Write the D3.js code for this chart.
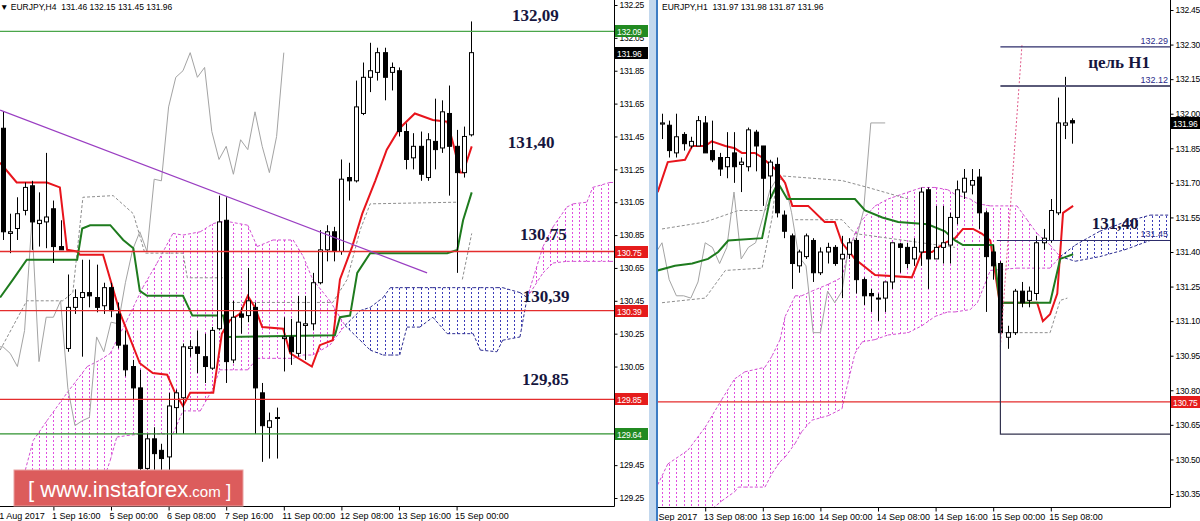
<!DOCTYPE html>
<html>
<head>
<meta charset="utf-8">
<title>EURJPY H4 / H1</title>
<script src="https://cdnjs.cloudflare.com/ajax/libs/d3/7.8.5/d3.min.js"></script>
<style>
	body { margin: 0; background: #fff; }
	svg { display: block; }
	.vis text { font-family: "Liberation Sans", Arial, sans-serif; }
	.vis .vis__note { font-family: "Liberation Serif", "Times New Roman", serif; font-weight: bold; font-size: 17px; fill: #16163e; }
</style>
</head>
<body>
<svg class="vis" width="1200" height="521"></svg>
<script>
// ---------- H4 panel data ----------
// [open, high, low, close]
var h4Candles = [
	[131.50,131.60,130.82,130.87],[130.86,130.98,130.74,130.87],[130.89,131.08,130.82,130.98],[131.00,131.17,130.97,131.14],
	[131.15,131.18,130.76,130.93],[130.92,131.11,130.78,130.94],[130.93,131.35,130.77,130.96],[131.01,131.06,130.68,130.78],
	[130.78,130.94,130.76,130.76],[130.16,130.61,130.14,130.41],[130.41,130.52,130.37,130.47],[130.47,130.70,130.11,130.50],
	[130.50,130.70,130.41,130.48],[130.47,130.67,130.38,130.41],[130.42,130.56,130.37,130.53],[130.53,130.56,130.35,130.39],
	[130.37,130.44,130.16,130.18],[130.18,130.27,129.99,130.03],[130.05,130.09,129.85,129.92],[129.92,130.03,129.42,129.43],
	[129.43,129.64,129.42,129.61],[129.61,129.68,129.42,129.52],[129.54,129.58,129.42,129.49],[129.50,129.89,129.42,129.81],
	[129.80,129.91,129.64,129.89],[129.86,130.19,129.64,130.17],[130.16,130.21,130.11,130.17],[130.17,130.27,130.01,130.13],
	[130.11,130.25,129.95,130.05],[130.04,130.29,130.03,130.27],[130.28,131.09,130.27,130.93],[130.94,131.08,129.95,130.08],
	[130.09,130.45,130.07,130.35],[130.37,130.41,130.25,130.35],[130.36,130.65,130.32,130.45],[130.41,130.44,129.64,129.92],
	[129.89,129.95,129.47,129.69],[129.68,129.77,129.49,129.72],[129.74,129.80,129.49,129.74],[130.22,130.35,130.02,130.23],
	[130.23,130.34,130.06,130.14],[130.13,130.48,130.11,130.32],[130.30,130.48,130.09,130.31],[130.31,130.62,130.27,130.56],
	[130.56,130.88,130.55,130.76],[130.76,130.91,130.69,130.87],[130.87,130.90,130.69,130.75],[130.75,131.31,130.73,131.19],
	[131.20,131.29,131.06,131.18],[131.18,131.79,131.17,131.63],[131.59,131.90,131.58,131.81],[131.81,132.02,131.72,131.85],
	[131.84,131.99,131.79,131.96],[131.96,131.99,131.67,131.81],[131.84,131.90,131.73,131.87],[131.85,131.87,131.45,131.48],
	[131.48,131.53,131.25,131.31],[131.32,131.47,131.25,131.39],[131.39,131.48,131.18,131.22],[131.20,131.47,131.18,131.43],
	[131.42,131.68,131.25,131.37],[131.38,131.67,131.35,131.60],[131.59,131.76,131.09,131.39],[131.39,131.49,130.62,131.23],
	[131.23,131.51,131.20,131.45],[131.46,132.15,131.45,131.96]
];
// [bar index, price]
var h4Tenkan = [[-0.4,131.29],[1.9,131.17],[6.1,131.17],[7.9,131.14],[8.9,130.76],[10.3,130.75],[10.7,130.73],[13.9,130.73],
	[16.3,130.37],[19.0,130.07],[20.8,130.01],[22.8,130.00],[23.9,129.89],[25.0,129.81],[26.0,129.89],[29.2,129.89],
	[30.4,130.25],[31.5,130.33],[32.9,130.37],[34.0,130.48],[35.0,130.41],[36.0,130.29],[38.9,130.28],[39.9,130.13],
	[42.9,130.05],[44.0,130.18],[45.8,130.21],[46.8,130.58],[48.5,130.78],[49.9,130.98],[51.7,131.18],[53.3,131.37],
	[55.1,131.50],[57.2,131.59],[59.7,131.55],[61.7,131.54],[62.5,131.41],[63.5,131.23],[63.9,131.23],[65.1,131.39]];
var h4Kijun = [[-0.4,130.47],[1.4,130.58],[3.3,130.70],[10.3,130.70],[11.0,130.89],[12.1,130.91],[14.9,130.91],[16.7,130.82],
	[18.1,130.77],[19.0,130.51],[20.0,130.48],[25.0,130.48],[26.3,130.36],[30.6,130.36],[31.1,130.23],[46.1,130.24],
	[46.8,130.35],[48.2,130.36],[49.2,130.62],[51.0,130.74],[61.7,130.74],[63.1,130.76],[63.9,130.94],[65.1,131.11]];
var h4CloudIdx = [3.1,4.2,6.1,8.9,11.7,13.5,14.9,15.8,17.2,19.4,21.4,23.6,25.0,27.4,29.2,30.1,31.5,34.0,35.3,37.5,40.3,41.7,
	43.0,45.4,47.5,49.6,51.0,52.8,53.8,55.1,56.1,57.9,59.7,61.7,65.3,66.3,68.6,69.4,71.8,72.8,75.0,76.4,78.3,79.2,81.1,81.9,84.3,86.0];
var h4SpanA = [129.42,129.60,129.72,129.89,130.05,130.09,130.13,130.21,130.33,130.53,130.68,130.86,130.85,130.87,130.92,130.93,
	130.93,130.91,130.78,130.82,130.82,130.72,130.58,130.45,130.30,130.21,130.15,130.12,130.12,130.12,130.29,130.29,130.35,
	130.25,130.25,130.15,130.14,130.21,130.23,130.47,130.78,130.90,131.02,131.04,131.05,131.14,131.17,131.17];
var h4SpanB = [129.12,129.12,129.12,129.12,129.15,129.30,129.48,129.62,129.63,129.64,129.64,129.64,129.78,129.78,129.92,130.03,
	130.03,130.03,130.10,130.10,130.10,130.12,130.12,130.18,130.30,130.39,130.41,130.47,130.53,130.53,130.53,130.53,130.53,
	130.53,130.53,130.53,130.53,130.53,130.50,130.47,130.62,130.68,130.69,130.69,130.69,130.69,130.69,130.69];
var h4Dashed = [
	[[-0.4,130.15],[3.3,130.45],[8.3,130.45],[9.7,130.50],[11.1,131.08],[15.3,131.09],[18.1,130.98],[19.7,130.74],[25.0,130.74],[25.6,130.59],[31.1,130.59]],
	[[31.1,130.44],[45.8,130.44],[47.8,130.58],[49.6,130.88],[51.0,131.04],[63.1,131.05]],
	[[63.8,130.58],[65.1,130.86]]
];
var h4Trend = [[-0.4,131.61],[58.9,130.62]];
var h4Levels = [132.09, 130.75, 130.39, 129.85, 129.64];
var h4Marks = [132.09, 131.96, 130.75, 130.39, 129.85, 129.64];
var h4Ticks = [132.25,132.05,131.85,131.65,131.45,131.25,131.05,130.85,130.65,130.45,130.25,130.05,129.85,129.65,129.45,129.25];
var h4TimeIdx = [-1, 7, 15, 23, 31, 39, 47, 55, 63];
var h4TimeLabels = ['31 Aug 2017','1 Sep 16:00','5 Sep 00:00','6 Sep 08:00','7 Sep 16:00','11 Sep 00:00','12 Sep 08:00','13 Sep 16:00','15 Sep 00:00'];
var h4Notes = ['132,09','131,40','130,75','130,39','129,85'];

// ---------- H1 panel data ----------
var h1Candles = [
	[131.955,132.00,131.89,131.96],[131.95,131.97,131.81,131.84],[131.83,132.00,131.81,131.90],[131.91,131.92,131.84,131.87],
	[131.86,131.90,131.85,131.88],[131.86,131.99,131.86,131.97],[131.96,131.99,131.83,131.83],[131.84,131.97,131.79,131.80],
	[131.81,131.83,131.73,131.76],[131.77,131.92,131.72,131.81],[131.83,131.92,131.70,131.77],[131.78,131.81,131.66,131.79],
	[131.77,131.94,131.75,131.93],[131.92,131.93,131.75,131.86],[131.86,131.86,131.60,131.72],[131.73,131.80,131.63,131.79],
	[131.78,131.81,131.55,131.57],[131.56,131.58,131.46,131.49],[131.47,131.48,131.24,131.35],[131.34,131.41,131.31,131.40],
	[131.38,131.48,131.37,131.47],[131.45,131.46,131.27,131.31],[131.31,131.42,131.30,131.40],[131.40,131.44,131.35,131.42],
	[131.42,131.43,131.34,131.35],[131.37,131.47,131.20,131.39],[131.39,131.46,131.37,131.44],[131.45,131.46,131.22,131.28],
	[131.28,131.29,131.17,131.21],[131.22,131.24,131.14,131.21],[131.20,131.22,131.10,131.20],[131.20,131.27,131.14,131.27],
	[131.27,131.44,131.24,131.44],[131.435,131.44,131.31,131.42],[131.42,131.44,131.33,131.35],[131.37,131.46,131.34,131.42],
	[131.40,131.68,131.34,131.66],[131.67,131.68,131.24,131.37],[131.37,131.60,131.37,131.42],[131.42,131.60,131.35,131.44],
	[131.43,131.57,131.35,131.55],[131.55,131.71,131.52,131.67],[131.66,131.76,131.63,131.72],[131.69,131.76,131.65,131.71],
	[131.725,131.76,131.50,131.57],[131.57,131.58,131.14,131.38],[131.40,131.43,131.28,131.34],[131.35,131.36,130.99,131.05],
	[131.03,131.08,130.98,131.05],[131.05,131.24,131.04,131.23],[131.23,131.27,131.16,131.18],[131.19,131.25,131.16,131.23],
	[131.22,131.47,131.19,131.44],[131.44,131.50,131.41,131.46],[131.45,131.63,131.44,131.58],[131.57,132.07,131.56,131.96],
	[131.95,132.16,131.89,131.96],[131.97,131.98,131.87,131.96]
];
var h1Tenkan = [[-0.6,131.66],[0.8,131.79],[3.2,131.80],[4.2,131.86],[6.0,131.86],[6.9,131.88],[8.8,131.86],[10.1,131.85],
	[11.1,131.83],[12.9,131.83],[13.9,131.81],[15.7,131.76],[17.1,131.70],[17.5,131.66],[18.1,131.60],[20.3,131.60],
	[22.6,131.53],[24.0,131.53],[25.0,131.44],[26.8,131.37],[29.6,131.30],[34.7,131.29],[36.1,131.40],[37.5,131.40],
	[39.3,131.44],[40.7,131.46],[41.8,131.50],[43.2,131.50],[44.4,131.48],[45.6,131.45],[46.9,131.18],[49.3,131.18],
	[52.1,131.18],[52.9,131.10],[53.9,131.13],[54.9,131.22],[55.7,131.57],[57.1,131.60]];
var h1Kijun = [[-0.6,131.32],[1.8,131.34],[4.2,131.35],[6.4,131.37],[7.8,131.40],[9.2,131.45],[13.9,131.46],[15.0,131.63],
	[16.1,131.70],[17.4,131.63],[18.1,131.63],[26.8,131.63],[28.2,131.58],[30.6,131.55],[32.8,131.53],[36.9,131.52],
	[39.3,131.49],[40.7,131.45],[41.8,131.43],[46.0,131.43],[46.9,131.18],[53.9,131.18],[55.3,131.37],[57.1,131.39]];
var h1CloudIdx = [-0.6,0.8,3.6,6.0,8.3,10.1,10.6,11.5,14.3,15.3,16.4,17.1,18.5,19.4,20.8,23.1,25.0,25.8,26.8,27.8,29.6,31.4,
	34.2,36.1,37.9,39.7,40.7,42.8,43.8,45.6,49.3,50.7,52.1,53.9,55.3,57.4,60.8,64.3,67.8,70.6];
var h1SpanA = [130.39,130.48,130.54,130.64,130.76,130.85,130.86,130.88,130.90,130.95,131.02,131.12,131.21,131.21,131.23,131.26,
	131.29,131.39,131.48,131.54,131.60,131.63,131.66,131.68,131.68,131.67,131.65,131.63,131.61,131.60,131.60,131.54,131.48,
	131.43,131.38,131.36,131.38,131.41,131.45,131.45];
var h1SpanB = [130.15,130.15,130.19,130.26,130.32,130.36,130.38,130.38,130.38,130.44,130.49,130.51,130.57,130.62,130.67,130.69,
	130.72,130.83,130.96,131.01,131.02,131.04,131.05,131.08,131.12,131.14,131.14,131.15,131.18,131.32,131.33,131.33,131.33,
	131.33,131.38,131.43,131.49,131.53,131.56,131.56];
var h1Dashed = [
	[[0,131.50],[6.0,131.53],[10.6,131.58],[14.3,131.58],[16.7,131.73],[25.0,131.71],[28.6,131.68],[34.2,131.63]],
	[[18.5,131.54],[25.0,131.54],[26.8,131.48],[40.7,131.42]],
	[[0,131.18],[6.0,131.20],[8.8,131.32],[13.9,131.33],[15.3,131.55],[16.1,131.77]],
	[[46.9,131.05],[53.9,131.05],[55.3,131.19],[56.3,131.20]]
];
var h1Targets = [132.29, 132.12];
var h1Support = 131.45;
var h1Frame = [[47,131.35],[47,130.61],[72,130.61]];
var h1Ray = [[47,130.99],[50,132.30]];
var h1Levels = [130.75];
var h1Marks = [131.96, 130.75];
var h1Ticks = [132.45,132.30,132.15,132.00,131.85,131.70,131.55,131.40,131.25,131.10,130.95,130.80,130.65,130.50,130.35];
var h1TimeIdx = [-2, 6, 14, 22, 30, 38, 46, 54];
var h1TimeLabels = ['13 Sep 2017','13 Sep 08:00','13 Sep 16:00','14 Sep 00:00','14 Sep 08:00','14 Sep 16:00','15 Sep 00:00','15 Sep 08:00'];

var svg = d3.select('svg');

function Panel(svg, p) {
	var x = d3.scaleLinear().domain([0, 1]).range([p.firstX, p.firstX + p.step]);
	var y = d3.scaleLinear().domain(p.priceDomain).range(p.pixelRange);
	var id = p.id;
	var defs = svg.append('defs');

	defs.append('clipPath').attr('id', id + '-clip').append('rect')
		.attr('x', p.left).attr('y', 0)
		.attr('width', p.right - p.left).attr('height', p.bottom);

	var g = svg.append('g').classed('vis__plot', true).attr('clip-path', 'url(#' + id + '-clip)');

	// kumo
	var cloud = p.cloudIdx.map(function(d, k) { return {i: d, a: p.spanA[k], b: p.spanB[k]}; });
	var upArea = d3.area().x(function(d) { return x(d.i); })
		.y0(function(d) { return y(Math.min(d.a, d.b)); })
		.y1(function(d) { return y(d.a); });
	var dnArea = d3.area().x(function(d) { return x(d.i); })
		.y0(function(d) { return y(Math.min(d.a, d.b)); })
		.y1(function(d) { return y(d.b); });
	defs.append('clipPath').attr('id', id + '-up').append('path').attr('d', upArea(cloud));
	defs.append('clipPath').attr('id', id + '-dn').append('path').attr('d', dnArea(cloud));

	var bars = d3.range(Math.ceil(cloud[0].i), Math.floor(cloud[cloud.length - 1].i) + 1);
	[['up', '#e04ee0'], ['dn', '#3b3bb8']].forEach(function(h) {
		g.append('g').attr('clip-path', 'url(#' + id + '-' + h[0] + ')')
			.selectAll('line').data(bars).enter().append('line')
				.attr('x1', function(d) { return Math.round(x(d)) + 0.5; })
				.attr('x2', function(d) { return Math.round(x(d)) + 0.5; })
				.attr('y1', 0).attr('y2', p.bottom)
				.attr('stroke', h[1]).attr('stroke-width', 1)
				.attr('stroke-dasharray', '2,2');
	});

	for (var k = 0; k < cloud.length - 1; k++) {
		var s = cloud[k], e = cloud[k + 1];
		var col = (s.a - s.b) + (e.a - e.b) >= 0 ? '#d24fd2' : '#2a2a90';
		['a', 'b'].forEach(function(key) {
			g.append('line')
				.attr('x1', x(s.i)).attr('y1', y(s[key]))
				.attr('x2', x(e.i)).attr('y2', y(e[key]))
				.attr('stroke', col).attr('stroke-dasharray', '3,2');
		});
	}

	var line = d3.line().x(function(d) { return x(d[0]); }).y(function(d) { return y(d[1]); });

	p.dashed.forEach(function(d) {
		g.append('path').attr('d', line(d)).attr('fill', 'none')
			.attr('stroke', '#8e8e8e').attr('stroke-dasharray', '3,2');
	});

	// chikou: closes shifted 26 bars back
	var chikou = p.candles.map(function(d, i) { return [i - 26, d[3]]; });
	g.append('path').attr('d', line(chikou)).attr('fill', 'none').attr('stroke', '#a3a3a3');

	g.append('path').attr('d', line(p.tenkan)).attr('fill', 'none')
		.attr('stroke', '#e8141c').attr('stroke-width', 2);
	g.append('path').attr('d', line(p.kijun)).attr('fill', 'none')
		.attr('stroke', '#1e7b1e').attr('stroke-width', 2);

	// candles
	var cg = g.append('g').classed('vis__candles', true);
	cg.selectAll('.wick').data(p.candles).enter().append('line')
		.attr('x1', function(d, i) { return Math.round(x(i)) + 0.5; })
		.attr('x2', function(d, i) { return Math.round(x(i)) + 0.5; })
		.attr('y1', function(d) { return y(d[1]); })
		.attr('y2', function(d) { return y(d[2]); })
		.attr('stroke', '#000');
	cg.selectAll('.body').data(p.candles).enter().append('rect')
		.attr('x', function(d, i) { return Math.round(x(i)) - 1.5; })
		.attr('width', 4)
		.attr('y', function(d) { return y(Math.max(d[0], d[3])); })
		.attr('height', function(d) { return Math.max(1, Math.abs(y(d[0]) - y(d[3]))); })
		.attr('fill', function(d) { return d[3] >= d[0] ? '#fff' : '#000'; })
		.attr('stroke', '#000');

	// horizontal levels
	p.levels.forEach(function(v, k) {
		g.append('line').attr('x1', p.left).attr('x2', p.right)
			.attr('y1', y(v)).attr('y2', y(v))
			.attr('stroke', p.levelColors[k]).attr('stroke-width', 1.3);
	});

	// price axis
	var axis = d3.axisRight(y).tickValues(p.ticks).tickSize(3).tickPadding(2).tickFormat(d3.format('.2f'));
	var ag = svg.append('g').attr('transform', 'translate(' + (p.right + 0.5) + ',0)').call(axis);
	ag.select('.domain').remove();
	ag.selectAll('text').attr('font-size', 8.5).attr('letter-spacing', -0.25).attr('fill', '#000');
	ag.selectAll('line').attr('stroke', '#000');

	svg.append('line').attr('x1', p.right + 0.5).attr('x2', p.right + 0.5)
		.attr('y1', 0).attr('y2', p.bottom + 0.5).attr('stroke', '#000');
	svg.append('line').attr('x1', p.left).attr('x2', p.right + 0.5)
		.attr('y1', p.bottom + 0.5).attr('y2', p.bottom + 0.5).attr('stroke', '#000');

	// price marks
	p.marks.forEach(function(v, k) {
		svg.append('rect').attr('x', p.right + 1).attr('y', Math.round(y(v)) - 6)
			.attr('width', 33).attr('height', 12).attr('fill', p.markColors[k]);
		svg.append('text').attr('x', p.right + 3).attr('y', Math.round(y(v)) + 3.5)
			.attr('font-size', 8.5).attr('letter-spacing', -0.25).attr('fill', '#fff').text(v.toFixed(2));
	});

	// time axis
	defs.append('clipPath').attr('id', id + '-time').append('rect')
		.attr('x', p.left).attr('y', p.bottom).attr('width', p.axisRight - p.left).attr('height', 30);
	var tAxis = d3.axisBottom(x).tickValues(p.timeIdx).tickSize(4).tickPadding(2)
		.tickFormat(function(d, k) { return p.timeLabels[k]; });
	var tg = svg.append('g').attr('clip-path', 'url(#' + id + '-time)')
		.append('g').attr('transform', 'translate(0,' + (p.bottom + 0.5) + ')').call(tAxis);
	tg.select('.domain').remove();
	tg.selectAll('line').attr('stroke', '#000');
	tg.selectAll('text').attr('font-size', 9).attr('fill', '#000')
		.attr('text-anchor', 'start').attr('dx', -2);

	svg.append('text').attr('x', p.titleX).attr('y', 10).attr('font-size', 8.5).attr('fill', '#000')
		.attr('xml:space', 'preserve').text(p.title);

	return {x: x, y: y, g: g};
}

var h4 = Panel(svg, {
	id: 'h4', left: 0, right: 614, axisRight: 648, bottom: 506,
	firstX: 3, step: 7.2,
	priceDomain: [132.25, 129.25], pixelRange: [5, 498],
	candles: h4Candles, tenkan: h4Tenkan, kijun: h4Kijun,
	cloudIdx: h4CloudIdx, spanA: h4SpanA, spanB: h4SpanB, dashed: h4Dashed,
	levels: h4Levels, levelColors: ['#4aa64a', '#e42d2d', '#e42d2d', '#e42d2d', '#2f922f'],
	marks: h4Marks, markColors: ['#218a21', '#000', '#e51c1c', '#e51c1c', '#e51c1c', '#218a21'],
	ticks: h4Ticks, timeIdx: h4TimeIdx, timeLabels: h4TimeLabels,
	titleX: 0, title: '\u25BC EURJPY,H4  131.46 132.15 131.45 131.96'
});

var h1 = Panel(svg, {
	id: 'h1', left: 658, right: 1170, axisRight: 1200, bottom: 507,
	firstX: 662, step: 7.2,
	priceDomain: [132.45, 130.35], pixelRange: [10, 494],
	candles: h1Candles, tenkan: h1Tenkan, kijun: h1Kijun,
	cloudIdx: h1CloudIdx, spanA: h1SpanA, spanB: h1SpanB, dashed: h1Dashed,
	levels: h1Levels, levelColors: ['#e42d2d'],
	marks: h1Marks, markColors: ['#000', '#e51c1c'],
	ticks: h1Ticks, timeIdx: h1TimeIdx, timeLabels: h1TimeLabels,
	titleX: 662, title: 'EURJPY,H1  131.97 131.98 131.87 131.96'
});

// H4 objects
var line4 = d3.line().x(function(d) { return h4.x(d[0]); }).y(function(d) { return h4.y(d[1]); });
h4.g.append('path').attr('d', line4(h4Trend)).attr('stroke', '#9a3ec2').attr('stroke-width', 1.2).attr('fill', 'none');

var notePos4 = [[70.7, 132.15], [70.1, 131.38], [71.8, 130.82], [72.2, 130.44], [72.1, 129.94]];
h4Notes.forEach(function(t, k) {
	svg.append('text').classed('vis__note', true)
		.attr('x', h4.x(notePos4[k][0])).attr('y', h4.y(notePos4[k][1])).text(t);
});

// H1 objects
var line1 = d3.line().x(function(d) { return h1.x(d[0]); }).y(function(d) { return h1.y(d[1]); });
h1.g.append('path').attr('d', line1(h1Ray)).attr('stroke', '#e05a8a').attr('stroke-dasharray', '2,2').attr('fill', 'none');
h1.g.append('path').attr('d', line1(h1Frame)).attr('stroke', '#33334f').attr('stroke-width', 1.2).attr('fill', 'none');

h1Targets.concat([h1Support]).forEach(function(v, k) {
	h1.g.append('line').attr('x1', h1.x(k == 2 ? 46.5 : 47)).attr('x2', 1170)
		.attr('y1', h1.y(v)).attr('y2', h1.y(v))
		.attr('stroke', k == 1 ? '#5a5a78' : '#2c2c6a').attr('stroke-width', k == 1 ? 2 : 1.2);
	svg.append('text').attr('x', 1168).attr('y', h1.y(v) - 3)
		.attr('text-anchor', 'end').attr('font-size', 9).attr('fill', '#2b2b8a')
		.text(v.toFixed(2));
});

svg.append('text').classed('vis__note', true).attr('x', h1.x(59.2)).attr('y', h1.y(132.2)).text('цель H1');
svg.append('text').classed('vis__note', true).attr('x', h1.x(59.7)).attr('y', h1.y(131.5)).text('131,40');

// separator between the two charts
svg.append('rect').attr('x', 649).attr('y', 0).attr('width', 7).attr('height', 521).attr('fill', '#c3d8ee');
svg.append('line').attr('x1', 657).attr('x2', 657).attr('y1', 0).attr('y2', 521)
	.attr('stroke', '#3d7cc4').attr('stroke-width', 2);

// watermark
var wm = svg.append('g').classed('vis__watermark', true);
wm.append('rect').attr('x', 14).attr('y', 470).attr('width', 229).attr('height', 36)
	.attr('fill', '#dc5c5c').attr('stroke', '#eaa2a2');
var wt = wm.append('text').attr('x', 28).attr('y', 497).attr('fill', '#fff').attr('font-size', 22)
	.attr('xml:space', 'preserve');
wt.append('tspan').text('[ ');
wt.append('tspan').text('www.instaforex');
wt.append('tspan').attr('font-size', 15).text('.com');
wt.append('tspan').attr('font-size', 19).text(' ]');
</script>
</body>
</html>
